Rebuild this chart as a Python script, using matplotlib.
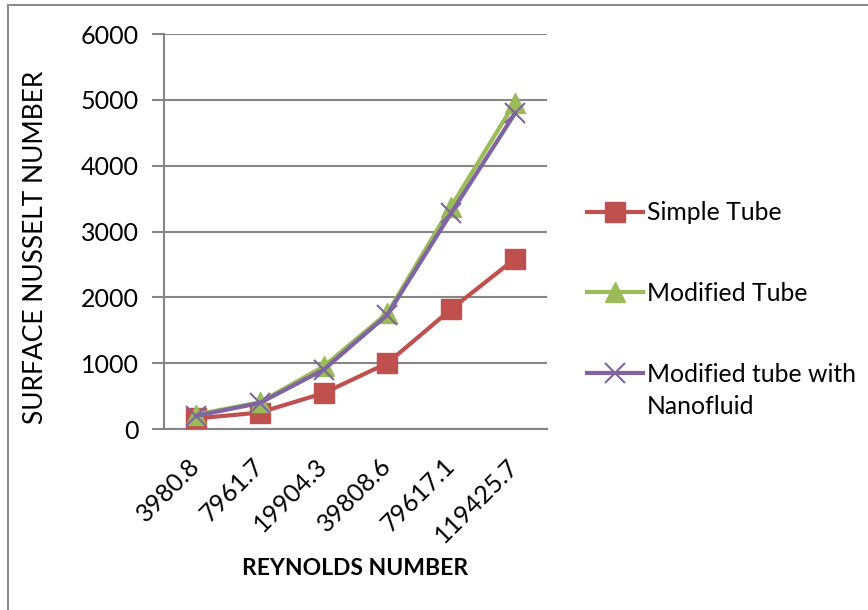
import matplotlib.pyplot as plt
from matplotlib.patches import Rectangle

reynolds = ["3980.8", "7961.7", "19904.3", "39808.6", "79617.1", "119425.7"]
simple_tube = [160, 250, 545, 1000, 1820, 2585]
modified_tube = [220, 405, 950, 1760, 3380, 4960]
modified_nano = [200, 395, 900, 1735, 3280, 4795]

plt.rcParams['font.family'] = ['Lato', 'DejaVu Sans']

fig = plt.figure(figsize=(8.68, 6.10), dpi=100)
ax = fig.add_axes([0.189, 0.2967, 0.441, 0.6475])

# outer chart border
fig.patches.append(Rectangle((8 / 868, -0.1), 1.2, 1 - 5 / 610 + 0.1,
                             transform=fig.transFigure, fill=False,
                             edgecolor='#8c8c8c', linewidth=1.5))

x = range(len(reynolds))
ax.plot(x, simple_tube, color='#C0504D', lw=3, marker='s', ms=14,
        label='Simple Tube', zorder=3)
ax.plot(x, modified_tube, color='#9BBB59', lw=3, marker='^', ms=15,
        label='Modified Tube', zorder=4)
ax.plot(x, modified_nano, color='#8064A2', lw=3, marker='x', ms=14,
        mew=1.5, label='Modified tube with', zorder=5)

ax.set_xlim(-0.5, 5.5)
ax.set_ylim(0, 6000)
ax.set_yticks(range(0, 6001, 1000))
ax.set_xticks(list(x))
ax.set_xticklabels(reynolds, rotation=45, ha='right', va='center',
                   rotation_mode='anchor', fontsize=18)
ax.tick_params(axis='x', length=0, pad=24)
ax.tick_params(axis='y', length=9, width=1.5, color='#868686',
               labelsize=18, pad=9)
ax.grid(axis='y', color='#868686', lw=1.5)
ax.set_axisbelow(True)
for s in ['top', 'right']:
    ax.spines[s].set_visible(False)
for s in ['left', 'bottom']:
    ax.spines[s].set_color('#868686')
    ax.spines[s].set_linewidth(1.5)

ax.set_ylabel('SURFACE NUSSELT NUMBER', fontsize=19, va='center')
ax.yaxis.set_label_coords(-0.335, 0.46)
ax.set_xlabel('REYNOLDS NUMBER', fontsize=16.5, fontweight='bold',
              va='center')
ax.xaxis.set_label_coords(0.5, -0.352)

leg = ax.legend(loc='upper left', bbox_to_anchor=(587 / 868, 0.670),
                bbox_transform=fig.transFigure, frameon=False, fontsize=17.8,
                handlelength=2.27, handletextpad=0.16, labelspacing=2.33,
                borderpad=0, borderaxespad=0)
# second line of the last legend label
fig.text(647 / 868, 1 - 407 / 610, 'Nanofluid', fontsize=17.8,
         va='center', ha='left')

fig.savefig('out.png', dpi=100)
